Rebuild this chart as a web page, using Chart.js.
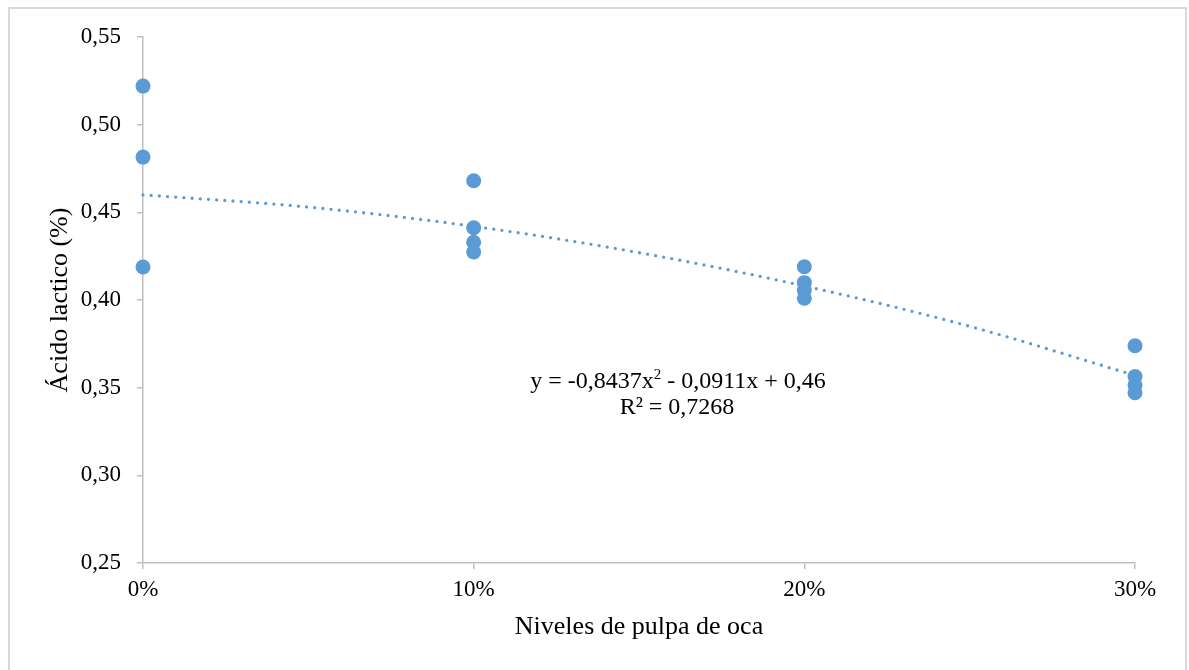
<!DOCTYPE html>
<html>
<head>
<meta charset="utf-8">
<script src="https://cdn.jsdelivr.net/npm/chart.js@4.4.1/dist/chart.umd.min.js"></script>
<style>
  html, body { margin: 0; padding: 0; background: #fff; }
  #wrap { width: 1189px; height: 670px; }
</style>
</head>
<body>
<div id="wrap"><canvas id="chart" width="1189" height="670"></canvas></div>
<script>
// Niveles de pulpa de oca (fracción) y ácido láctico (%)
const levels = [0, 0, 0, 0.1, 0.1, 0.1, 0.1, 0.2, 0.2, 0.2, 0.2, 0.3, 0.3, 0.3, 0.3];
const acid = [0.522, 0.4815, 0.4188, 0.468, 0.4412, 0.4329, 0.4274, 0.419, 0.4099, 0.4057, 0.401, 0.3739, 0.3563, 0.3515, 0.3471];

// línea de tendencia polinómica
const trendX = [0, 0.05, 0.1, 0.15, 0.2, 0.25, 0.3];
const trendY = [0.460, 0.453, 0.442, 0.427, 0.408, 0.385, 0.357];

const xTicks = [0, 0.1, 0.2, 0.3];
const yTicks = [0.25, 0.30, 0.35, 0.40, 0.45, 0.50, 0.55];

const equation = ['y = -0,8437x', '2', ' - 0,0911x + 0,46'];
const rSquared = 'R² = 0,7268';

const theme = {
    blue: '#5B9BD5',
    axis: '#BFBFBF',
    frame: '#D9D9D9',
    text: '#000000',
    font: '"Liberation Serif", "Times New Roman", serif'
};

const framePlugin = {
    id: 'frame',
    beforeDraw(chart) {
        const ctx = chart.ctx;
        ctx.save();
        ctx.fillStyle = '#fff';
        ctx.fillRect(0, 0, chart.width, chart.height);
        ctx.strokeStyle = theme.frame;
        ctx.lineWidth = 2;
        ctx.strokeRect(9, 8, 1177, 700);
        ctx.restore();
    }
};

const equationPlugin = {
    id: 'equation',
    afterDatasetsDraw(chart) {
        const ctx = chart.ctx;
        const big = '24px ' + theme.font;
        const small = '15px ' + theme.font;
        ctx.save();
        ctx.fillStyle = theme.text;
        ctx.textBaseline = 'alphabetic';
        ctx.textAlign = 'left';
        ctx.font = big;
        const w1 = ctx.measureText(equation[0]).width;
        const w3 = ctx.measureText(equation[2]).width;
        ctx.font = small;
        const w2 = ctx.measureText(equation[1]).width;
        let x = 678 - (w1 + w2 + w3) / 2;
        const base = 388;
        ctx.font = big;
        ctx.fillText(equation[0], x, base);
        x += w1;
        ctx.font = small;
        ctx.fillText(equation[1], x, base - 9);
        x += w2;
        ctx.font = big;
        ctx.fillText(equation[2], x, base);
        ctx.textAlign = 'center';
        ctx.fillText(rSquared, 677, 414);
        ctx.restore();
    }
};

const axisGrid = {
    display: true,
    drawOnChartArea: false,
    drawTicks: true,
    tickLength: 6,
    color: theme.axis,
    lineWidth: 1.5
};

new Chart(document.getElementById('chart'), {
    type: 'scatter',
    data: {
        datasets: [
            {
                label: 'Ácido lactico',
                data: levels.map((x, i) => ({ x: x, y: acid[i] })),
                backgroundColor: theme.blue,
                borderWidth: 0,
                pointRadius: 7.5,
                pointHoverRadius: 7.5,
                clip: false
            },
            {
                label: 'Tendencia',
                data: trendX.map((x, i) => ({ x: x, y: trendY[i] })),
                showLine: true,
                pointRadius: 0,
                borderColor: theme.blue,
                borderWidth: 3.3,
                borderDash: [0, 8.2],
                borderCapStyle: 'round',
                cubicInterpolationMode: 'monotone',
                fill: false,
                clip: false
            }
        ]
    },
    options: {
        responsive: false,
        animation: false,
        devicePixelRatio: 1,
        layout: { padding: { top: 37, right: 54, bottom: 0, left: 0 } },
        plugins: {
            legend: { display: false },
            tooltip: { enabled: false }
        },
        scales: {
            x: {
                type: 'linear',
                min: 0,
                max: 0.3,
                afterBuildTicks: s => { s.ticks = xTicks.map(v => ({ value: v })); },
                afterFit: s => { s.height = 107; },
                grid: axisGrid,
                border: { display: true, color: theme.axis, width: 1.5 },
                ticks: {
                    color: theme.text,
                    padding: 7,
                    maxRotation: 0,
                    font: { family: theme.font, size: 23 },
                    callback: v => Math.round(v * 100) + '%'
                },
                title: {
                    display: true,
                    text: 'Niveles de pulpa de oca',
                    color: theme.text,
                    font: { family: theme.font, size: 26 },
                    padding: { top: 0, bottom: 27 }
                }
            },
            y: {
                type: 'linear',
                min: 0.25,
                max: 0.55,
                afterBuildTicks: s => { s.ticks = yTicks.map(v => ({ value: v })); },
                afterFit: s => { s.width = 143; },
                grid: axisGrid,
                border: { display: true, color: theme.axis, width: 1.5 },
                ticks: {
                    color: theme.text,
                    padding: 16,
                    font: { family: theme.font, size: 23 },
                    callback: v => v.toFixed(2).replace('.', ',')
                },
                title: {
                    display: true,
                    text: 'Ácido lactico (%)',
                    color: theme.text,
                    font: { family: theme.font, size: 26 },
                    padding: { top: 45, bottom: 0 }
                }
            }
        }
    },
    plugins: [framePlugin, equationPlugin]
});
</script>
</body>
</html>
